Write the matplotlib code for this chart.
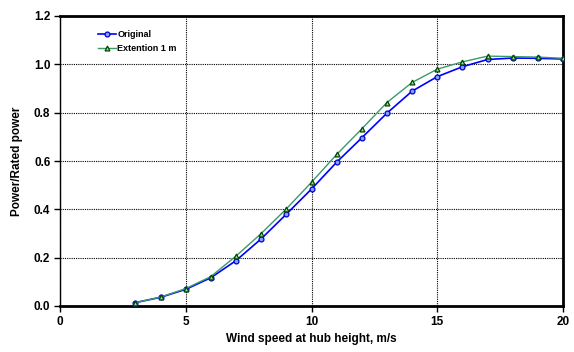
import matplotlib
matplotlib.use('Agg')
import matplotlib.pyplot as plt

plt.rcParams['font.family'] = 'Liberation Sans'
plt.rcParams['font.weight'] = 'bold'

wind = [3, 4, 5, 6, 7, 8, 9, 10, 11, 12, 13, 14, 15, 16, 17, 18, 19, 20]
original = [0.014, 0.036, 0.069, 0.117, 0.188, 0.278, 0.380, 0.484, 0.595,
            0.696, 0.798, 0.889, 0.949, 0.990, 1.020, 1.026, 1.025, 1.022]
extention = [0.014, 0.037, 0.072, 0.122, 0.207, 0.300, 0.402, 0.512, 0.627,
             0.733, 0.842, 0.925, 0.980, 1.010, 1.034, 1.032, 1.030, 1.025]

fig = plt.figure(figsize=(5.74, 3.52), dpi=100)
ax = fig.add_axes([60/574, 1 - 306/352, 503/574, 290/352])

ax.plot(wind, original, color='#0000ff', lw=1.2, marker='o', ms=3.5,
        mfc='#7fa6ff', mec='#0000cc', mew=0.9, label='Original', zorder=3)
ax.plot(wind, extention, color='#3a9a6a', lw=1.0, marker='^', ms=3.5,
        mfc='#99dd99', mec='#004400', mew=0.9, label='Extention 1 m', zorder=4)

ax.set_xlim(0, 20)
ax.set_ylim(0, 1.2)
ax.set_xticks([0, 5, 10, 15, 20])
ax.set_yticks([0.0, 0.2, 0.4, 0.6, 0.8, 1.0, 1.2])
ax.set_yticklabels(['0.0', '0.2', '0.4', '0.6', '0.8', '1.0', '1.2'])
ax.tick_params(direction='out', length=4, width=1, labelsize=8.5, pad=3)
for lab in ax.get_xticklabels() + ax.get_yticklabels():
    lab.set_fontweight('bold')

ax.grid(True, color='black', linestyle=(0, (1, 1)), linewidth=0.8)
for side in ['top', 'right', 'bottom']:
    ax.spines[side].set_linewidth(2)
ax.spines['left'].set_linewidth(1)

ax.set_xlabel('Wind speed at hub height, m/s', fontsize=8.5, fontweight='bold', labelpad=4)
ax.set_ylabel('Power/Rated power', fontsize=8.5, fontweight='bold', labelpad=8)

leg = ax.legend(loc='upper left', bbox_to_anchor=(0.06, 0.98), frameon=False,
                fontsize=6.5, handlelength=2.0, handletextpad=0.1, labelspacing=0.6)
for t in leg.get_texts():
    t.set_fontweight('bold')

fig.savefig('out.png', dpi=100)
